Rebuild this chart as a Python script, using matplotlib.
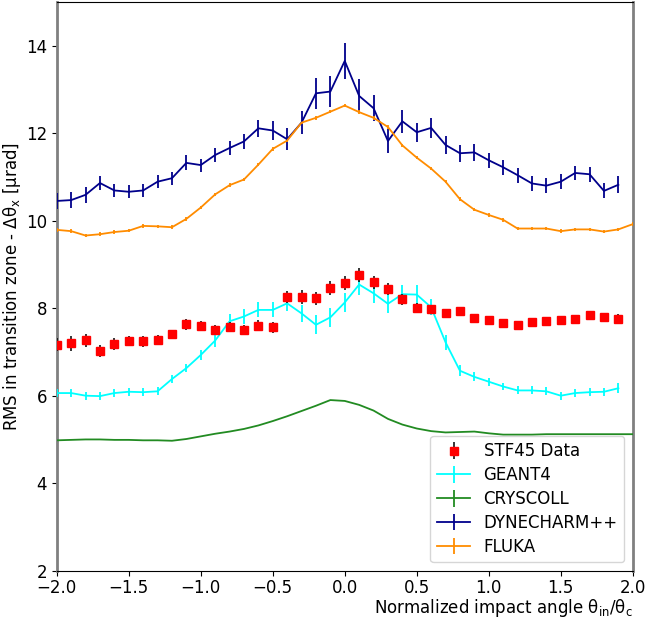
import numpy as np
import matplotlib
matplotlib.use("Agg")
import matplotlib.pyplot as plt

plt.rcParams['mathtext.default'] = 'regular'

x40 = [round(-2.0 + 0.1 * i, 1) for i in range(40)]
x41 = [round(-2.0 + 0.1 * i, 1) for i in range(41)]

data_y = [7.16, 7.20, 7.27, 7.02, 7.18, 7.25, 7.24, 7.27, 7.40, 7.63,
          7.59, 7.50, 7.58, 7.50, 7.60, 7.56, 8.25, 8.25, 8.23, 8.46,
          8.58, 8.76, 8.59, 8.43, 8.20, 8.00, 7.98, 7.89, 7.93, 7.77,
          7.72, 7.67, 7.61, 7.69, 7.70, 7.73, 7.75, 7.84, 7.79, 7.75]
data_err = [0.15, 0.17, 0.15, 0.13, 0.13, 0.12, 0.12, 0.12, 0.11, 0.12,
            0.11, 0.11, 0.11, 0.11, 0.12, 0.12, 0.14, 0.16, 0.15, 0.16,
            0.16, 0.16, 0.15, 0.14, 0.13, 0.11, 0.10, 0.10, 0.10, 0.10,
            0.09, 0.09, 0.09, 0.09, 0.09, 0.10, 0.10, 0.10, 0.10, 0.11]

geant_y = [6.06, 6.06, 6.00, 5.99, 6.06, 6.09, 6.08, 6.10, 6.38, 6.63,
           6.93, 7.26, 7.70, 7.81, 7.96, 7.96, 8.11, 7.88, 7.62, 7.79,
           8.13, 8.54, 8.34, 8.10, 8.32, 8.31, 8.02, 7.22, 6.57, 6.43,
           6.32, 6.21, 6.12, 6.12, 6.10, 6.00, 6.06, 6.08, 6.09, 6.17]
geant_err = [0.09, 0.09, 0.09, 0.09, 0.09, 0.09, 0.09, 0.09, 0.10, 0.10,
             0.12, 0.14, 0.16, 0.17, 0.17, 0.17, 0.18, 0.20, 0.22, 0.22,
             0.22, 0.25, 0.22, 0.20, 0.22, 0.22, 0.18, 0.17, 0.12, 0.10,
             0.09, 0.09, 0.09, 0.09, 0.09, 0.09, 0.09, 0.09, 0.09, 0.12]

crys_y = [4.98, 4.99, 5.00, 5.00, 4.99, 4.99, 4.98, 4.98, 4.97, 5.01,
          5.07, 5.13, 5.18, 5.24, 5.32, 5.42, 5.53, 5.65, 5.77, 5.90,
          5.88, 5.79, 5.66, 5.47, 5.34, 5.25, 5.19, 5.16, 5.17, 5.18,
          5.14, 5.11, 5.11, 5.11, 5.12, 5.12, 5.12, 5.12, 5.12, 5.12, 5.12]

dyne_y = [10.45, 10.47, 10.59, 10.86, 10.69, 10.66, 10.69, 10.89, 10.97, 11.32,
          11.27, 11.50, 11.66, 11.81, 12.11, 12.06, 11.86, 12.24, 12.91, 12.95,
          13.65, 12.85, 12.57, 11.82, 12.27, 12.02, 12.12, 11.73, 11.54, 11.56,
          11.38, 11.22, 11.04, 10.85, 10.80, 10.89, 11.09, 11.06, 10.68, 10.82]
dyne_err = [0.19, 0.19, 0.19, 0.17, 0.15, 0.15, 0.15, 0.15, 0.15, 0.17,
            0.15, 0.17, 0.17, 0.17, 0.19, 0.21, 0.25, 0.27, 0.35, 0.35,
            0.42, 0.38, 0.30, 0.27, 0.27, 0.22, 0.22, 0.21, 0.19, 0.19,
            0.17, 0.17, 0.17, 0.17, 0.17, 0.17, 0.17, 0.17, 0.17, 0.19]

fluka_y = [9.79, 9.76, 9.66, 9.69, 9.74, 9.77, 9.88, 9.87, 9.85, 10.04,
           10.30, 10.60, 10.81, 10.94, 11.28, 11.64, 11.83, 12.24, 12.35, 12.49,
           12.63, 12.48, 12.35, 12.14, 11.72, 11.44, 11.19, 10.89, 10.49, 10.25,
           10.13, 10.02, 9.82, 9.82, 9.82, 9.76, 9.80, 9.80, 9.75, 9.80, 9.92]
fluka_err = [0.04] * 41

fig = plt.figure(figsize=(6.45, 6.19), dpi=100)
ax = fig.add_axes([0.088, 0.078, 0.893, 0.919])

ax.errorbar(x40, data_y, yerr=data_err, fmt='s', color='red', ecolor='black',
            markersize=5.5, elinewidth=1.1, label='STF45 Data', zorder=5)
ax.errorbar(x40, geant_y, yerr=geant_err, color='cyan', lw=1.3,
            label='GEANT4', zorder=3)
ax.errorbar(x41, crys_y, yerr=[0.0] * 41, color='forestgreen', lw=1.3,
            label='CRYSCOLL', zorder=3)
ax.errorbar(x40, dyne_y, yerr=dyne_err, color='darkblue', lw=1.3,
            label='DYNECHARM++', zorder=3)
ax.errorbar(x41, fluka_y, yerr=fluka_err, color='darkorange', lw=1.3,
            label='FLUKA', zorder=3)

ax.set_xlim(-2, 2)
ax.set_ylim(2, 15)
ax.set_yticks([2, 4, 6, 8, 10, 12, 14])
ax.set_xticks([-2.0, -1.5, -1.0, -0.5, 0.0, 0.5, 1.0, 1.5, 2.0])
ax.tick_params(labelsize=12)
ax.tick_params(axis='x', pad=2.5)
for s in ['left', 'right']:
    ax.spines[s].set_color('grey')
    ax.spines[s].set_linewidth(2)

ax.set_ylabel(r'RMS in transition zone - $\Delta\theta_x$ [$\mu$rad]', fontsize=12,
              labelpad=2)
ax.set_xlabel(r'Normalized impact angle $\theta_{in}/\theta_c$', fontsize=12,
              loc='right', labelpad=0)
ax.legend(loc='lower right', fontsize=12, borderaxespad=0.5, labelspacing=0.35)

fig.savefig('out.png', dpi=100)
